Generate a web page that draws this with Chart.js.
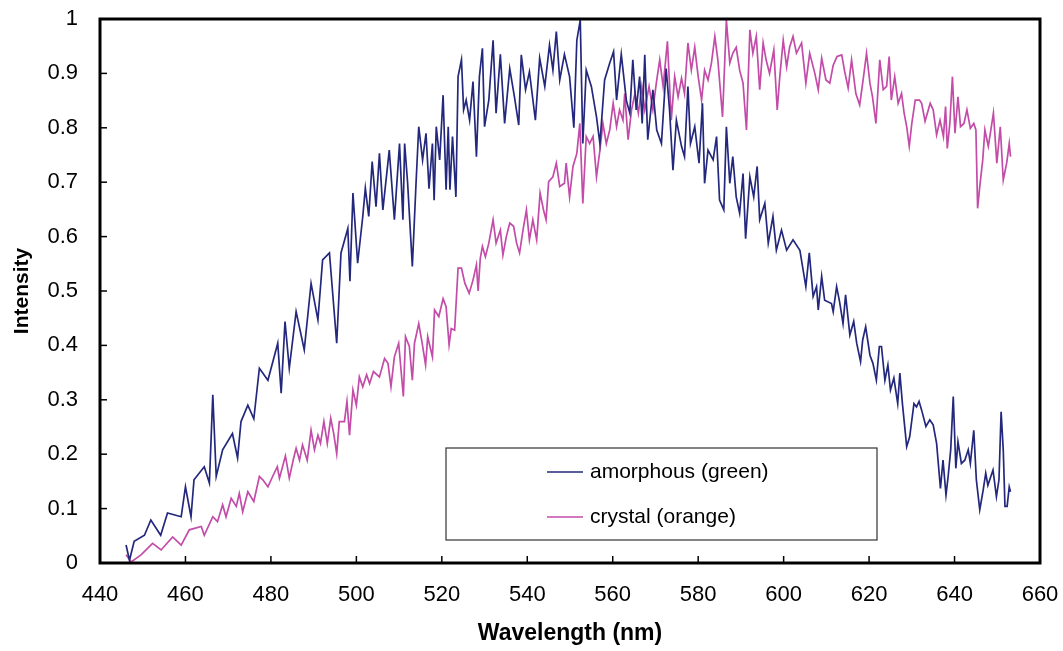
<!DOCTYPE html>
<html>
<head>
<meta charset="utf-8">
<script src="https://cdn.jsdelivr.net/npm/chart.js@4.4.0/dist/chart.umd.min.js"></script>
<style>
  body { margin: 0; background: #fff; }
  canvas { display: block; }
</style>
</head>
<body>
<canvas id="myChart" width="1063" height="651"></canvas>
<script>
const xTickLabels = ['440', '460', '480', '500', '520', '540', '560', '580', '600', '620', '640', '660'];
const yTickLabels = ['0', '0.1', '0.2', '0.3', '0.4', '0.5', '0.6', '0.7', '0.8', '0.9', '1'];
const seriesNames = ['amorphous (green)', 'crystal (orange)'];

const amorphousNm = [
  446.1, 446.9, 448.0, 450.4, 451.9, 454.2, 455.8, 459.0, 460.0, 461.3, 462.0, 464.4, 465.6, 466.4, 467.2,
  468.7, 471.0, 472.2, 473.0, 474.6, 476.0, 477.3, 479.3, 481.6, 482.4, 483.3, 484.3, 485.9, 487.8, 489.4,
  491.0, 492.1, 493.7, 495.4, 496.4, 498.0, 498.5, 499.2, 500.3, 501.5, 502.1, 502.9, 503.7, 504.6, 505.4,
  506.2, 507.7, 508.9, 510.1, 510.9, 511.3, 512.0, 513.1, 514.0, 514.6, 515.5, 516.3, 517.0, 517.8, 518.2,
  518.7, 519.5, 520.3, 521.0, 521.5, 521.9, 522.5, 523.3, 523.8, 524.6, 525.1, 525.7, 526.5, 527.3, 528.1,
  528.8, 529.5, 530.0, 531.0, 532.0, 532.7, 533.7, 534.7, 535.9, 537.0, 538.0, 538.6, 539.6, 540.5, 541.9,
  542.9, 544.1, 545.2, 546.0, 546.8, 547.6, 548.7, 549.9, 550.9, 551.6, 552.4, 553.0, 553.8, 555.0, 556.2,
  557.0, 558.1, 559.3, 560.2, 560.9, 562.0, 563.2, 564.0, 564.7, 565.5, 566.3, 566.9, 567.5, 568.2, 569.4,
  570.3, 571.4, 572.5, 573.3, 574.1, 574.9, 576.1, 576.8, 577.6, 578.2, 579.2, 580.2, 581.0, 581.5, 582.3,
  583.5, 584.3, 585.0, 586.0, 586.6, 587.4, 588.1, 588.9, 589.7, 590.5, 591.1, 592.1, 593.0, 593.8, 594.4,
  595.6, 596.4, 597.5, 598.3, 599.5, 600.7, 602.2, 603.8, 605.2, 606.0, 606.9, 607.7, 608.1, 608.9, 609.6,
  611.2, 611.6, 612.4, 613.1, 613.9, 614.5, 615.5, 616.4, 617.1, 618.0, 618.5, 619.2, 620.2, 620.9, 621.7,
  622.4, 622.9, 623.7, 624.4, 625.0, 625.8, 626.7, 627.2, 627.8, 628.8, 629.5, 630.5, 631.1, 631.7, 632.3,
  633.3, 634.2, 635.0, 635.8, 636.7, 637.3, 638.0, 638.5, 639.1, 639.7, 640.3, 640.8, 641.6, 642.4, 643.2,
  643.7, 644.5, 645.1, 645.9, 646.7, 647.3, 647.8, 649.0, 649.8, 650.4, 650.9, 651.4, 651.8, 652.3, 652.8,
  653.1
];
const amorphousVal = [
  0.033, 0.005, 0.040, 0.051, 0.079, 0.051, 0.092, 0.085, 0.140, 0.085, 0.153, 0.177, 0.147, 0.309, 0.159,
  0.208, 0.238, 0.193, 0.260, 0.290, 0.265, 0.358, 0.336, 0.404, 0.312, 0.444, 0.358, 0.462, 0.392, 0.514,
  0.447, 0.557, 0.570, 0.404, 0.570, 0.615, 0.518, 0.680, 0.551, 0.637, 0.689, 0.637, 0.738, 0.655, 0.753,
  0.649, 0.759, 0.631, 0.771, 0.631, 0.771, 0.698, 0.545, 0.704, 0.802, 0.741, 0.790, 0.688, 0.771, 0.667,
  0.802, 0.741, 0.860, 0.686, 0.802, 0.686, 0.784, 0.673, 0.894, 0.925, 0.833, 0.851, 0.814, 0.885, 0.747,
  0.894, 0.946, 0.802, 0.851, 0.961, 0.827, 0.935, 0.808, 0.909, 0.857, 0.805, 0.934, 0.870, 0.903, 0.814,
  0.928, 0.876, 0.952, 0.906, 0.977, 0.888, 0.935, 0.894, 0.800, 0.961, 0.998, 0.771, 0.906, 0.876, 0.820,
  0.771, 0.888, 0.919, 0.940, 0.851, 0.935, 0.850, 0.827, 0.925, 0.833, 0.894, 0.808, 0.934, 0.778, 0.870,
  0.796, 0.771, 0.909, 0.833, 0.722, 0.814, 0.766, 0.747, 0.876, 0.771, 0.802, 0.735, 0.845, 0.698, 0.759,
  0.741, 0.784, 0.667, 0.649, 0.802, 0.698, 0.747, 0.673, 0.643, 0.716, 0.596, 0.710, 0.673, 0.729, 0.631,
  0.661, 0.588, 0.637, 0.575, 0.612, 0.575, 0.594, 0.575, 0.508, 0.570, 0.490, 0.508, 0.465, 0.527, 0.483,
  0.477, 0.462, 0.508, 0.480, 0.440, 0.493, 0.419, 0.444, 0.404, 0.370, 0.410, 0.434, 0.382, 0.367, 0.336,
  0.398, 0.398, 0.336, 0.364, 0.318, 0.340, 0.293, 0.349, 0.293, 0.214, 0.232, 0.293, 0.287, 0.297, 0.281,
  0.251, 0.263, 0.254, 0.220, 0.137, 0.189, 0.125, 0.159, 0.208, 0.306, 0.174, 0.223, 0.183, 0.189, 0.208,
  0.183, 0.244, 0.153, 0.098, 0.134, 0.165, 0.143, 0.171, 0.122, 0.153, 0.278, 0.208, 0.104, 0.104, 0.140,
  0.131
];

const crystalNm = [
  446.1, 447.3, 449.6, 452.3, 454.3, 457.0, 459.0, 460.9, 463.7, 464.4, 466.4, 467.5, 468.7, 469.5, 470.7,
  471.9, 472.6, 473.4, 474.6, 476.0, 477.3, 478.1, 479.3, 480.4, 481.5, 482.0, 483.4, 484.3, 485.3, 485.9,
  486.7, 487.4, 488.5, 489.4, 490.2, 491.0, 491.6, 492.4, 493.2, 494.0, 494.7, 495.4, 496.0, 497.2, 497.8,
  498.4, 499.2, 500.0, 500.7, 501.5, 502.4, 503.1, 504.0, 505.4, 506.6, 507.4, 508.1, 508.9, 509.9, 511.0,
  511.5, 512.4, 513.1, 513.6, 514.6, 515.4, 516.2, 516.7, 517.8, 518.3, 519.3, 520.3, 521.0, 521.7, 522.2,
  523.0, 523.8, 524.6, 525.4, 526.4, 527.3, 528.1, 528.5, 529.0, 529.5, 530.2, 531.0, 532.0, 532.7, 533.7,
  534.3, 535.1, 535.9, 536.8, 537.5, 538.2, 539.0, 539.8, 540.5, 541.3, 542.2, 543.0, 543.8, 544.4, 545.0,
  546.0, 546.8, 547.6, 548.7, 549.1, 549.9, 550.7, 551.6, 552.3, 553.0, 553.8, 554.6, 555.4, 556.2, 557.0,
  557.7, 558.5, 559.3, 560.1, 560.9, 561.6, 562.4, 562.8, 563.6, 564.4, 565.2, 566.0, 566.8, 567.5, 568.5,
  569.4, 570.2, 571.0, 571.8, 572.8, 573.7, 574.5, 575.3, 576.1, 576.8, 577.6, 578.4, 579.2, 580.0, 580.8,
  581.5, 582.3, 583.1, 583.9, 584.6, 585.7, 586.6, 587.4, 588.1, 588.9, 589.7, 590.5, 591.3, 592.1, 592.8,
  593.6, 594.4, 595.2, 595.9, 596.7, 597.7, 598.5, 599.1, 599.9, 600.7, 601.4, 602.2, 603.0, 604.2, 605.2,
  606.1, 607.3, 608.1, 608.9, 609.9, 610.8, 611.6, 612.5, 613.6, 614.3, 615.1, 615.9, 616.9, 617.8, 618.6,
  619.4, 620.2, 620.8, 621.6, 622.5, 623.3, 624.1, 624.7, 625.2, 626.0, 626.8, 627.6, 628.2, 628.8, 629.4,
  630.0, 630.8, 631.8, 632.3, 633.1, 634.3, 635.0, 635.8, 636.6, 637.4, 637.9, 638.3, 638.9, 639.5, 640.1,
  640.8, 641.4, 642.2, 642.9, 643.7, 644.5, 645.0, 645.4, 645.9, 646.6, 647.1, 647.9, 648.5, 649.1, 649.9,
  650.7, 651.4, 652.2, 652.8, 653.1
];
const crystalVal = [
  0.015, 0.002, 0.015, 0.036, 0.024, 0.048, 0.033, 0.061, 0.067, 0.051, 0.085, 0.076, 0.107, 0.085, 0.119,
  0.104, 0.128, 0.094, 0.131, 0.113, 0.159, 0.153, 0.140, 0.159, 0.177, 0.156, 0.197, 0.156, 0.192, 0.211,
  0.189, 0.217, 0.189, 0.244, 0.208, 0.235, 0.220, 0.260, 0.220, 0.266, 0.238, 0.201, 0.260, 0.260, 0.297,
  0.235, 0.318, 0.290, 0.342, 0.324, 0.346, 0.330, 0.352, 0.342, 0.376, 0.367, 0.324, 0.379, 0.404, 0.306,
  0.416, 0.398, 0.336, 0.404, 0.440, 0.404, 0.364, 0.416, 0.379, 0.465, 0.453, 0.486, 0.471, 0.401, 0.431,
  0.428, 0.542, 0.542, 0.514, 0.496, 0.520, 0.548, 0.500, 0.560, 0.582, 0.563, 0.588, 0.631, 0.588, 0.612,
  0.566, 0.600, 0.625, 0.619, 0.588, 0.570, 0.612, 0.649, 0.594, 0.631, 0.594, 0.680, 0.649, 0.631, 0.701,
  0.710, 0.735, 0.692, 0.698, 0.735, 0.673, 0.729, 0.753, 0.808, 0.661, 0.784, 0.771, 0.784, 0.710, 0.759,
  0.808, 0.771, 0.796, 0.845, 0.802, 0.833, 0.814, 0.863, 0.778, 0.833, 0.863, 0.827, 0.876, 0.833, 0.876,
  0.833, 0.882, 0.925, 0.876, 0.959, 0.814, 0.894, 0.857, 0.891, 0.863, 0.956, 0.906, 0.948, 0.894, 0.851,
  0.906, 0.888, 0.919, 0.968, 0.925, 0.820, 0.998, 0.919, 0.937, 0.948, 0.906, 0.882, 0.796, 0.980, 0.937,
  0.968, 0.870, 0.956, 0.925, 0.900, 0.943, 0.833, 0.894, 0.961, 0.912, 0.948, 0.968, 0.937, 0.956, 0.882,
  0.937, 0.900, 0.870, 0.928, 0.888, 0.882, 0.915, 0.931, 0.934, 0.903, 0.873, 0.925, 0.863, 0.842, 0.888,
  0.937, 0.882, 0.857, 0.808, 0.925, 0.870, 0.876, 0.931, 0.851, 0.894, 0.845, 0.863, 0.827, 0.802, 0.766,
  0.808, 0.851, 0.851, 0.845, 0.812, 0.845, 0.833, 0.787, 0.814, 0.784, 0.839, 0.762, 0.808, 0.894, 0.790,
  0.857, 0.802, 0.808, 0.833, 0.799, 0.808, 0.796, 0.652, 0.692, 0.741, 0.796, 0.766, 0.796, 0.827, 0.735,
  0.802, 0.704, 0.735, 0.771, 0.747
];

const FONT = '"Liberation Sans", Arial, sans-serif';
const colors = ['#24287c', '#c24ca8'];

function toPoints(xs, ys) {
  return xs.map((x, i) => ({ x: x, y: ys[i] }));
}

// frame, inner tick marks and the boxed legend
const decorations = {
  id: 'decorations',
  afterDraw: (chart) => {
    const ctx = chart.ctx;
    const a = chart.chartArea;
    const xs = chart.scales.x;
    const ys = chart.scales.y;
    ctx.save();
    ctx.strokeStyle = '#000';
    ctx.lineWidth = 1.5;
    xs.ticks.forEach((t) => {
      const px = xs.getPixelForValue(t.value);
      ctx.beginPath();
      ctx.moveTo(px, a.bottom);
      ctx.lineTo(px, a.bottom - 7);
      ctx.stroke();
    });
    ys.ticks.forEach((t) => {
      const py = ys.getPixelForValue(t.value);
      ctx.beginPath();
      ctx.moveTo(a.left, py);
      ctx.lineTo(a.left + 7, py);
      ctx.stroke();
    });
    ctx.lineWidth = 3;
    ctx.strokeRect(a.left, a.top, a.right - a.left, a.bottom - a.top);

    // legend box
    const bx = 446, by = 448, bw = 431, bh = 92;
    ctx.fillStyle = '#fff';
    ctx.fillRect(bx, by, bw, bh);
    ctx.lineWidth = 1.2;
    ctx.strokeStyle = '#333';
    ctx.strokeRect(bx, by, bw, bh);
    ctx.font = '21px ' + FONT;
    ctx.textBaseline = 'middle';
    ctx.fillStyle = '#000';
    chart.data.datasets.forEach((ds, i) => {
      const ly = 472 + i * 45;
      ctx.strokeStyle = ds.borderColor;
      ctx.lineWidth = 1.5;
      ctx.beginPath();
      ctx.moveTo(547, ly);
      ctx.lineTo(583, ly);
      ctx.stroke();
      ctx.fillText(ds.label, 590, ly);
    });
    ctx.restore();
  },
};

new Chart(document.getElementById('myChart').getContext('2d'), {
  type: 'line',
  data: {
    datasets: [
      {
        label: seriesNames[0],
        data: toPoints(amorphousNm, amorphousVal),
        borderColor: colors[0],
        borderWidth: 1.7,
        pointRadius: 0,
        tension: 0,
        fill: false,
      },
      {
        label: seriesNames[1],
        data: toPoints(crystalNm, crystalVal),
        borderColor: colors[1],
        borderWidth: 1.7,
        pointRadius: 0,
        tension: 0,
        fill: false,
      },
    ],
  },
  options: {
    responsive: false,
    animation: false,
    layout: { padding: { left: 0, top: 19, right: 23, bottom: 0 } },
    plugins: {
      legend: { display: false },
      tooltip: { enabled: false },
    },
    scales: {
      x: {
        type: 'linear',
        min: 440,
        max: 660,
        afterFit: (s) => {
          s.height = 88;
          s.paddingLeft = 0;
          s.paddingRight = 0;
        },
        afterBuildTicks: (s) => {
          s.ticks = xTickLabels.map((l) => ({ value: Number(l) }));
        },
        ticks: {
          callback: (v, i) => xTickLabels[i],
          color: '#000',
          padding: 19,
          maxRotation: 0,
          font: { family: FONT, size: 22 },
        },
        grid: { display: false, drawTicks: false },
        border: { display: false },
        title: {
          display: true,
          text: 'Wavelength (nm)',
          color: '#000',
          padding: { top: 0, bottom: 4 },
          font: { family: FONT, size: 23, weight: 'bold' },
        },
      },
      y: {
        min: 0,
        max: 1,
        afterFit: (s) => {
          s.width = 100;
          s.paddingTop = 0;
          s.paddingBottom = 0;
        },
        afterBuildTicks: (s) => {
          s.ticks = yTickLabels.map((l) => ({ value: Number(l) }));
        },
        ticks: {
          callback: (v, i) => yTickLabels[i],
          color: '#000',
          padding: 22,
          font: { family: FONT, size: 22 },
        },
        grid: { display: false, drawTicks: false },
        border: { display: false },
        title: {
          display: true,
          text: 'Intensity',
          color: '#000',
          padding: { top: 10, bottom: 0 },
          font: { family: FONT, size: 21, weight: 'bold' },
        },
      },
    },
  },
  plugins: [decorations],
});
</script>
</body>
</html>
